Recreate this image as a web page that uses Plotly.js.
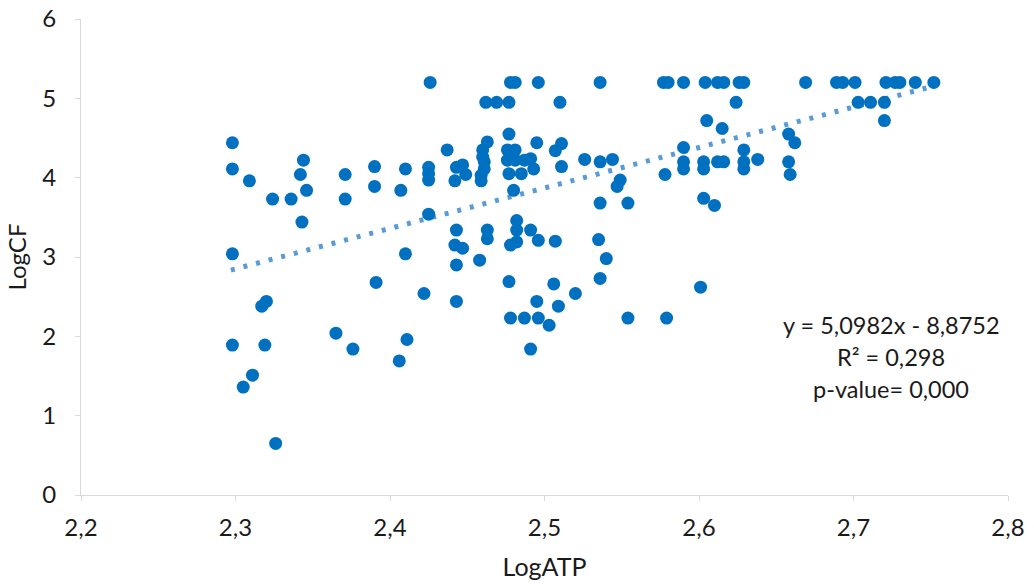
<!DOCTYPE html>
<html>
<head>
<meta charset="utf-8">
<script src="https://cdn.plot.ly/plotly-3.0.1.min.js"></script>
<style>
  html, body { margin: 0; padding: 0; background: #fff; }
  #chart { width: 1034px; height: 584px; }
</style>
</head>
<body>
<div id="chart"></div>
<script>
// LogATP values (x)
const logATP = [
  2.298, 2.298, 2.298, 2.298, 2.309, 2.344, 2.342, 2.346, 2.324, 2.336,
  2.343, 2.371, 2.371, 2.390, 2.390, 2.410, 2.407, 2.425, 2.425, 2.425,
  2.425, 2.426, 2.410, 2.391, 2.422, 2.320, 2.317, 2.319, 2.365, 2.376,
  2.411, 2.406, 2.311, 2.305, 2.326,
  2.437, 2.443, 2.447, 2.449, 2.442, 2.443, 2.442, 2.447, 2.443, 2.443,
  2.458, 2.463, 2.460, 2.460, 2.461, 2.461, 2.459, 2.459, 2.463, 2.463,
  2.462, 2.469, 2.477, 2.478, 2.481, 2.496, 2.536, 2.510, 2.477, 2.476,
  2.481, 2.476, 2.481, 2.477, 2.485, 2.480, 2.495, 2.511, 2.507, 2.487,
  2.491, 2.493, 2.511, 2.526, 2.536, 2.544, 2.549, 2.547, 2.536, 2.554,
  2.482, 2.482, 2.482, 2.478, 2.491, 2.496, 2.507, 2.535, 2.540, 2.477,
  2.506, 2.520, 2.536, 2.495, 2.509, 2.478, 2.487, 2.496, 2.503, 2.554,
  2.491, 2.579, 2.601,
  2.577, 2.580, 2.590, 2.604, 2.612, 2.616, 2.626, 2.629, 2.669, 2.689,
  2.693, 2.701, 2.721, 2.727, 2.730, 2.740, 2.752, 2.624, 2.703, 2.711,
  2.720, 2.720, 2.605, 2.615, 2.658, 2.662, 2.590, 2.629, 2.590, 2.590,
  2.603, 2.603, 2.612, 2.616, 2.629, 2.629, 2.638, 2.658, 2.659, 2.578,
  2.603, 2.610
];
// LogCF values (y)
const logCF = [
  4.44, 4.11, 3.04, 1.89, 3.96, 4.22, 4.04, 3.84, 3.73, 3.73,
  3.44, 4.04, 3.73, 4.14, 3.89, 4.11, 3.84, 4.13, 4.05, 3.97,
  3.54, 5.20, 3.04, 2.68, 2.54, 2.44, 2.38, 1.89, 2.04, 1.84,
  1.96, 1.69, 1.51, 1.36, 0.65,
  4.35, 4.13, 4.16, 4.04, 3.96, 3.34, 3.15, 3.11, 2.90, 2.44,
  2.96, 4.45, 4.35, 4.26, 4.20, 4.11, 4.03, 3.96, 3.34, 3.23,
  4.95, 4.95, 4.95, 5.20, 5.20, 5.20, 5.20, 4.95, 4.55, 4.35,
  4.35, 4.22, 4.22, 4.05, 4.05, 3.84, 4.44, 4.43, 4.34, 4.22,
  4.24, 4.11, 4.14, 4.23, 4.20, 4.23, 3.97, 3.89, 3.68, 3.68,
  3.46, 3.34, 3.19, 3.15, 3.34, 3.21, 3.20, 3.22, 2.98, 2.69,
  2.66, 2.54, 2.73, 2.44, 2.38, 2.23, 2.23, 2.23, 2.14, 2.23,
  1.84, 2.23, 2.62,
  5.20, 5.20, 5.20, 5.20, 5.20, 5.20, 5.20, 5.20, 5.20, 5.20,
  5.20, 5.20, 5.20, 5.20, 5.20, 5.20, 5.20, 4.95, 4.95, 4.95,
  4.95, 4.72, 4.72, 4.62, 4.55, 4.44, 4.38, 4.35, 4.20, 4.11,
  4.20, 4.11, 4.20, 4.20, 4.20, 4.11, 4.23, 4.20, 4.04, 4.04,
  3.74, 3.65
];
// Linear trend reported on the chart
const slope = 5.0982;
const intercept = -8.8752;
const trendX = [2.297, 2.752];
const xTicks = [2.2, 2.3, 2.4, 2.5, 2.6, 2.7, 2.8];
const yTicks = [0, 1, 2, 3, 4, 5, 6];
const statLines = ["y = 5,0982x - 8,8752", "R² = 0,298", "p-value= 0,000"];

const FONT = "Lato, 'Open Sans', sans-serif";
const TXT = '#1a1a1a';

const scatter = {
  x: logATP, y: logCF, type: 'scatter', mode: 'markers',
  marker: { color: '#0070C0', size: 13 },
  hoverinfo: 'x+y', showlegend: false
};
const trend = {
  x: trendX, y: trendX.map(v => slope * v + intercept),
  type: 'scatter', mode: 'lines',
  line: { color: '#5B9BD5', width: 5, dash: '4px,9px' },
  hoverinfo: 'skip', showlegend: false
};

const statY = [0.357, 0.290, 0.223];
const annotations = statLines.map((t, i) => ({
  text: t, xref: 'paper', yref: 'paper', x: 0.874, y: statY[i],
  xanchor: 'center', yanchor: 'middle', showarrow: false,
  font: { family: FONT, size: 23.5, color: TXT }
}));

const layout = {
  width: 1034, height: 584,
  margin: { l: 81, r: 26, t: 19, b: 89 },
  paper_bgcolor: '#fff', plot_bgcolor: '#fff',
  separators: ',.',
  font: { family: FONT, size: 24, color: TXT },
  xaxis: {
    range: [2.2, 2.8], tickvals: xTicks, tickformat: '.1f',
    showgrid: false, zeroline: false,
    showline: true, linecolor: '#d9d9d9', linewidth: 1,
    ticks: 'outside', ticklen: 5, tickcolor: '#d9d9d9',
    ticklabelstandoff: 6,
    tickfont: { family: FONT, size: 24, color: TXT },
    title: { text: 'LogATP', font: { family: FONT, size: 25, color: TXT }, standoff: 18 }
  },
  yaxis: {
    range: [0, 6], tickvals: yTicks,
    showgrid: false, zeroline: false,
    showline: true, linecolor: '#d9d9d9', linewidth: 1,
    ticks: 'outside', ticklen: 5, tickcolor: '#d9d9d9',
    ticklabelstandoff: 14,
    tickfont: { family: FONT, size: 24, color: TXT },
    title: { text: 'LogCF', font: { family: FONT, size: 24, color: TXT }, standoff: 8 }
  },
  annotations: annotations
};

Plotly.newPlot('chart', [trend, scatter], layout, { displayModeBar: false, staticPlot: true });
</script>
</body>
</html>
